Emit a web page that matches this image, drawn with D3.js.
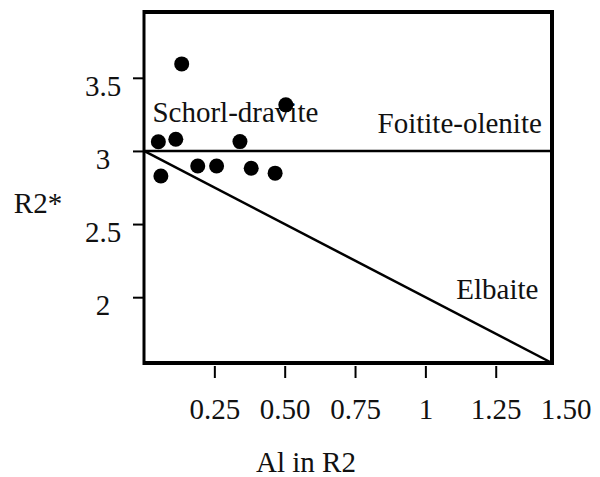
<!DOCTYPE html>
<html><head><meta charset="utf-8">
<script src="https://cdn.jsdelivr.net/npm/d3@7"></script>
<style>
html,body{margin:0;padding:0;background:#fff;}
</style></head>
<body><svg id="c" width="600" height="477"></svg>
<script>
// Data
const alInR2 = [0.134, 0.504, 0.051, 0.113, 0.341, 0.060, 0.191, 0.258, 0.381, 0.466];
const r2Star = [3.595, 3.315, 3.063, 3.080, 3.064, 2.829, 2.897, 2.897, 2.882, 2.848];
const xTickValues = [0.25, 0.5, 0.75, 1, 1.25];
const xTickLabels = ["0.25", "0.50", "0.75", "1", "1.25"];
const xLastLabelValue = 1.5, xLastLabel = "1.50";
const yTickValues = [2, 2.5, 3, 3.5];
const yTickLabels = ["2", "2.5", "3", "3.5"];
const fieldLabels = [
  {name: "Schorl-dravite", x: 0.03, y: 3.2},
  {name: "Foitite-olenite", x: 0.83, y: 3.12},
  {name: "Elbaite", x: 1.11, y: 1.99}
];
const foititeBoundary = 3;             // R2* = 3
const elbaiteLine = [[0, 3], [1.45, 1.55]]; // R2* = 3 - Al

const FONT = "Liberation Serif";
const FS = 29;
const svg = d3.select("#c");
const x = d3.scaleLinear().domain([0, 1.45]).range([144, 552]);
const y = d3.scaleLinear().domain([1.55, 3.95]).range([363, 12]);

// box
const g = svg.append("g");
g.append("line").attr("x1", x(0)).attr("x2", x(1.45)).attr("y1", y(3.95)).attr("y2", y(3.95)).attr("stroke","#000").attr("stroke-width",4);
g.append("line").attr("x1", x(0)).attr("x2", x(1.45)+2).attr("y1", y(1.55)).attr("y2", y(1.55)).attr("stroke","#000").attr("stroke-width",4);
g.append("line").attr("x1", x(0)).attr("x2", x(0)).attr("y1", y(3.95)-2).attr("y2", y(1.55)+2).attr("stroke","#000").attr("stroke-width",3);
g.append("line").attr("x1", x(1.45)).attr("x2", x(1.45)).attr("y1", y(3.95)-2).attr("y2", y(1.55)+2).attr("stroke","#000").attr("stroke-width",4);

// x axis
const xAxis = d3.axisBottom(x).tickValues(xTickValues).tickSize(12).tickFormat((d,i)=>xTickLabels[i]);
const xg = svg.append("g").attr("transform", `translate(0,${y(1.55)+3})`).call(xAxis);
xg.attr("font-family", FONT).attr("font-size", FS);
xg.select(".domain").remove();
xg.selectAll("line").attr("stroke","#000").attr("stroke-width",2);
xg.selectAll("text").attr("font-family",FONT).attr("font-size",FS).attr("fill","#111").attr("dy","1.3em");
xg.append("text").attr("x", x(xLastLabelValue)).attr("y", 15).attr("dy","1.3em").attr("text-anchor","middle")
  .attr("font-family",FONT).attr("font-size",FS).attr("fill","#111").text(xLastLabel);

// y axis
const yAxis = d3.axisLeft(y).tickValues(yTickValues).tickSize(11).tickFormat((d,i)=>yTickLabels[i]);
const yg = svg.append("g").attr("transform", `translate(${x(0)},0)`).call(yAxis);
yg.attr("font-family", FONT).attr("font-size", FS);
yg.select(".domain").remove();
yg.selectAll("line").attr("stroke","#000").attr("stroke-width",2);
yg.selectAll("text").attr("font-family",FONT).attr("font-size",FS).attr("fill","#111")
  .attr("text-anchor","middle").attr("x",-41).attr("dy","0.6em");

// axis titles
svg.append("text").attr("x", 38).attr("y", 213).attr("text-anchor","middle")
  .attr("font-family",FONT).attr("font-size",FS).attr("fill","#111").text("R2*");
svg.append("text").attr("x", 306).attr("y", 472).attr("text-anchor","middle")
  .attr("font-family",FONT).attr("font-size",FS).attr("fill","#111").text("Al in R2");

// boundary lines
svg.append("line").attr("x1", x(0)).attr("x2", x(1.45)).attr("y1", y(foititeBoundary)).attr("y2", y(foititeBoundary)).attr("stroke","#000").attr("stroke-width",2.5);
svg.append("path").attr("d", d3.line().x(d=>x(d[0])).y(d=>y(d[1]))(elbaiteLine)).attr("stroke","#000").attr("stroke-width",2.5).attr("fill","none");

// field labels
svg.selectAll(".fl").data(fieldLabels).join("text").attr("class","fl")
  .attr("x", d=>x(d.x)).attr("y", d=>y(d.y))
  .attr("font-family",FONT).attr("font-size",FS).attr("fill","#111").text(d=>d.name);

// points
svg.selectAll(".pt").data(alInR2).join("circle").attr("class","pt")
  .attr("cx", d=>x(d)).attr("cy", (d,i)=>y(r2Star[i])).attr("r",7.5).attr("fill","#000");
</script></body></html>
